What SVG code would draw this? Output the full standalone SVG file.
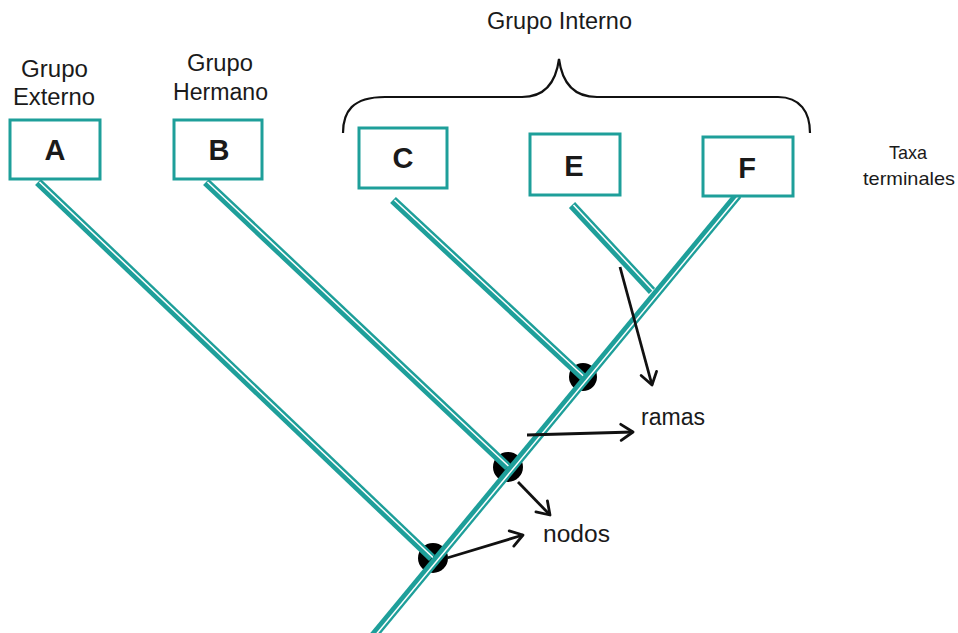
<svg xmlns="http://www.w3.org/2000/svg" xmlns:xlink="http://www.w3.org/1999/xlink" width="958" height="633" viewBox="0 0 958 633">
<style>
text{font-family:"Liberation Sans",Arial,sans-serif;fill:#1a1a1a}
.lbl{font-size:23.5px}
.small{font-size:19px}
.let{font-size:29px;font-weight:bold;text-anchor:middle}
.box{fill:#fff;stroke:#1e9f9a;stroke-width:3}
.br{fill:none;stroke:#1e9f9a;stroke-width:8.5;stroke-linecap:butt}
.st{fill:none;stroke:#fff;stroke-width:1.5}
.arr{fill:none;stroke:#111;stroke-width:2.8;marker-end:url(#ah)}
.node{fill:#000}
</style>
<defs>
<marker id="ah" markerUnits="userSpaceOnUse" viewBox="0 0 20 20" markerWidth="20" markerHeight="20" refX="17" refY="10" orient="auto">
<path d="M5,2 L17,10 L5,18" fill="none" stroke="#111" stroke-width="2.8" stroke-linecap="round" stroke-linejoin="round"/>
</marker>
<path id="pA" d="M38,182 L432,558"/>
<path id="pB" d="M206,182 L508,467"/>
<path id="pC" d="M393,200 L583,377"/>
<path id="pE" d="M572,205 L652,291"/>
<path id="pT" d="M370,640 L738,195"/>
</defs>

<g id="nodes-internal">
<circle id="n1" class="node" cx="433" cy="558" r="15"/>
<circle id="n2" class="node" cx="508" cy="467" r="15"/>
<circle id="n3" class="node" cx="583" cy="377" r="14"/>
</g>

<g id="connectors">
<use xlink:href="#pA" class="br"/><use xlink:href="#pA" class="st" transform="translate(1.5,0)"/>
<use xlink:href="#pB" class="br"/><use xlink:href="#pB" class="st" transform="translate(1.5,0)"/>
<use xlink:href="#pC" class="br"/><use xlink:href="#pC" class="st" transform="translate(1.5,0)"/>
<use xlink:href="#pE" class="br"/><use xlink:href="#pE" class="st" transform="translate(1.5,0)"/>
<use xlink:href="#pT" class="br"/><use xlink:href="#pT" class="st" transform="translate(1.5,0)"/>
<path class="arr" d="M620,267 L652,385"/>
<path class="arr" d="M527,435 L633,432"/>
<path class="arr" d="M518,482 L550,515"/>
<path class="arr" d="M447,558 L523,535"/>
</g>

<g id="brace">
<path d="M343,133 C343,112 352,97 385,97 L522,97 C545,97 556,82 559,59 C562,82 573,97 597,97 L778,97 C800,97 810,112 810,133" fill="none" stroke="#111" stroke-width="2.2"/>
</g>

<g id="node-A">
<rect class="box" x="10" y="120" width="90" height="59"/>
<text class="let" x="55" y="160">A</text>
</g>
<g id="node-B">
<rect class="box" x="174" y="120" width="88" height="59"/>
<text class="let" x="219" y="160">B</text>
</g>
<g id="node-C">
<rect class="box" x="359" y="128" width="88" height="60"/>
<text class="let" x="403" y="168">C</text>
</g>
<g id="node-E">
<rect class="box" x="530" y="134" width="90" height="61"/>
<text class="let" x="574" y="176">E</text>
</g>
<g id="node-F">
<rect class="box" x="703" y="137" width="90" height="59"/>
<text class="let" x="747" y="178">F</text>
</g>

<g id="labels">
<text class="lbl" x="487" y="29" textLength="145" lengthAdjust="spacingAndGlyphs">Grupo Interno</text>
<text class="lbl" x="21" y="77" textLength="67" lengthAdjust="spacingAndGlyphs">Grupo</text>
<text class="lbl" x="13" y="105" textLength="82" lengthAdjust="spacingAndGlyphs">Externo</text>
<text class="lbl" x="187" y="71" textLength="66" lengthAdjust="spacingAndGlyphs">Grupo</text>
<text class="lbl" x="173" y="100" textLength="95" lengthAdjust="spacingAndGlyphs">Hermano</text>
<text class="small" x="889" y="159" textLength="38" lengthAdjust="spacingAndGlyphs">Taxa</text>
<text class="small" x="863" y="185" textLength="92" lengthAdjust="spacingAndGlyphs">terminales</text>
<text class="lbl" x="641" y="425" textLength="64" lengthAdjust="spacingAndGlyphs">ramas</text>
<text class="lbl" x="543" y="542" textLength="67" lengthAdjust="spacingAndGlyphs">nodos</text>
</g>
</svg>
